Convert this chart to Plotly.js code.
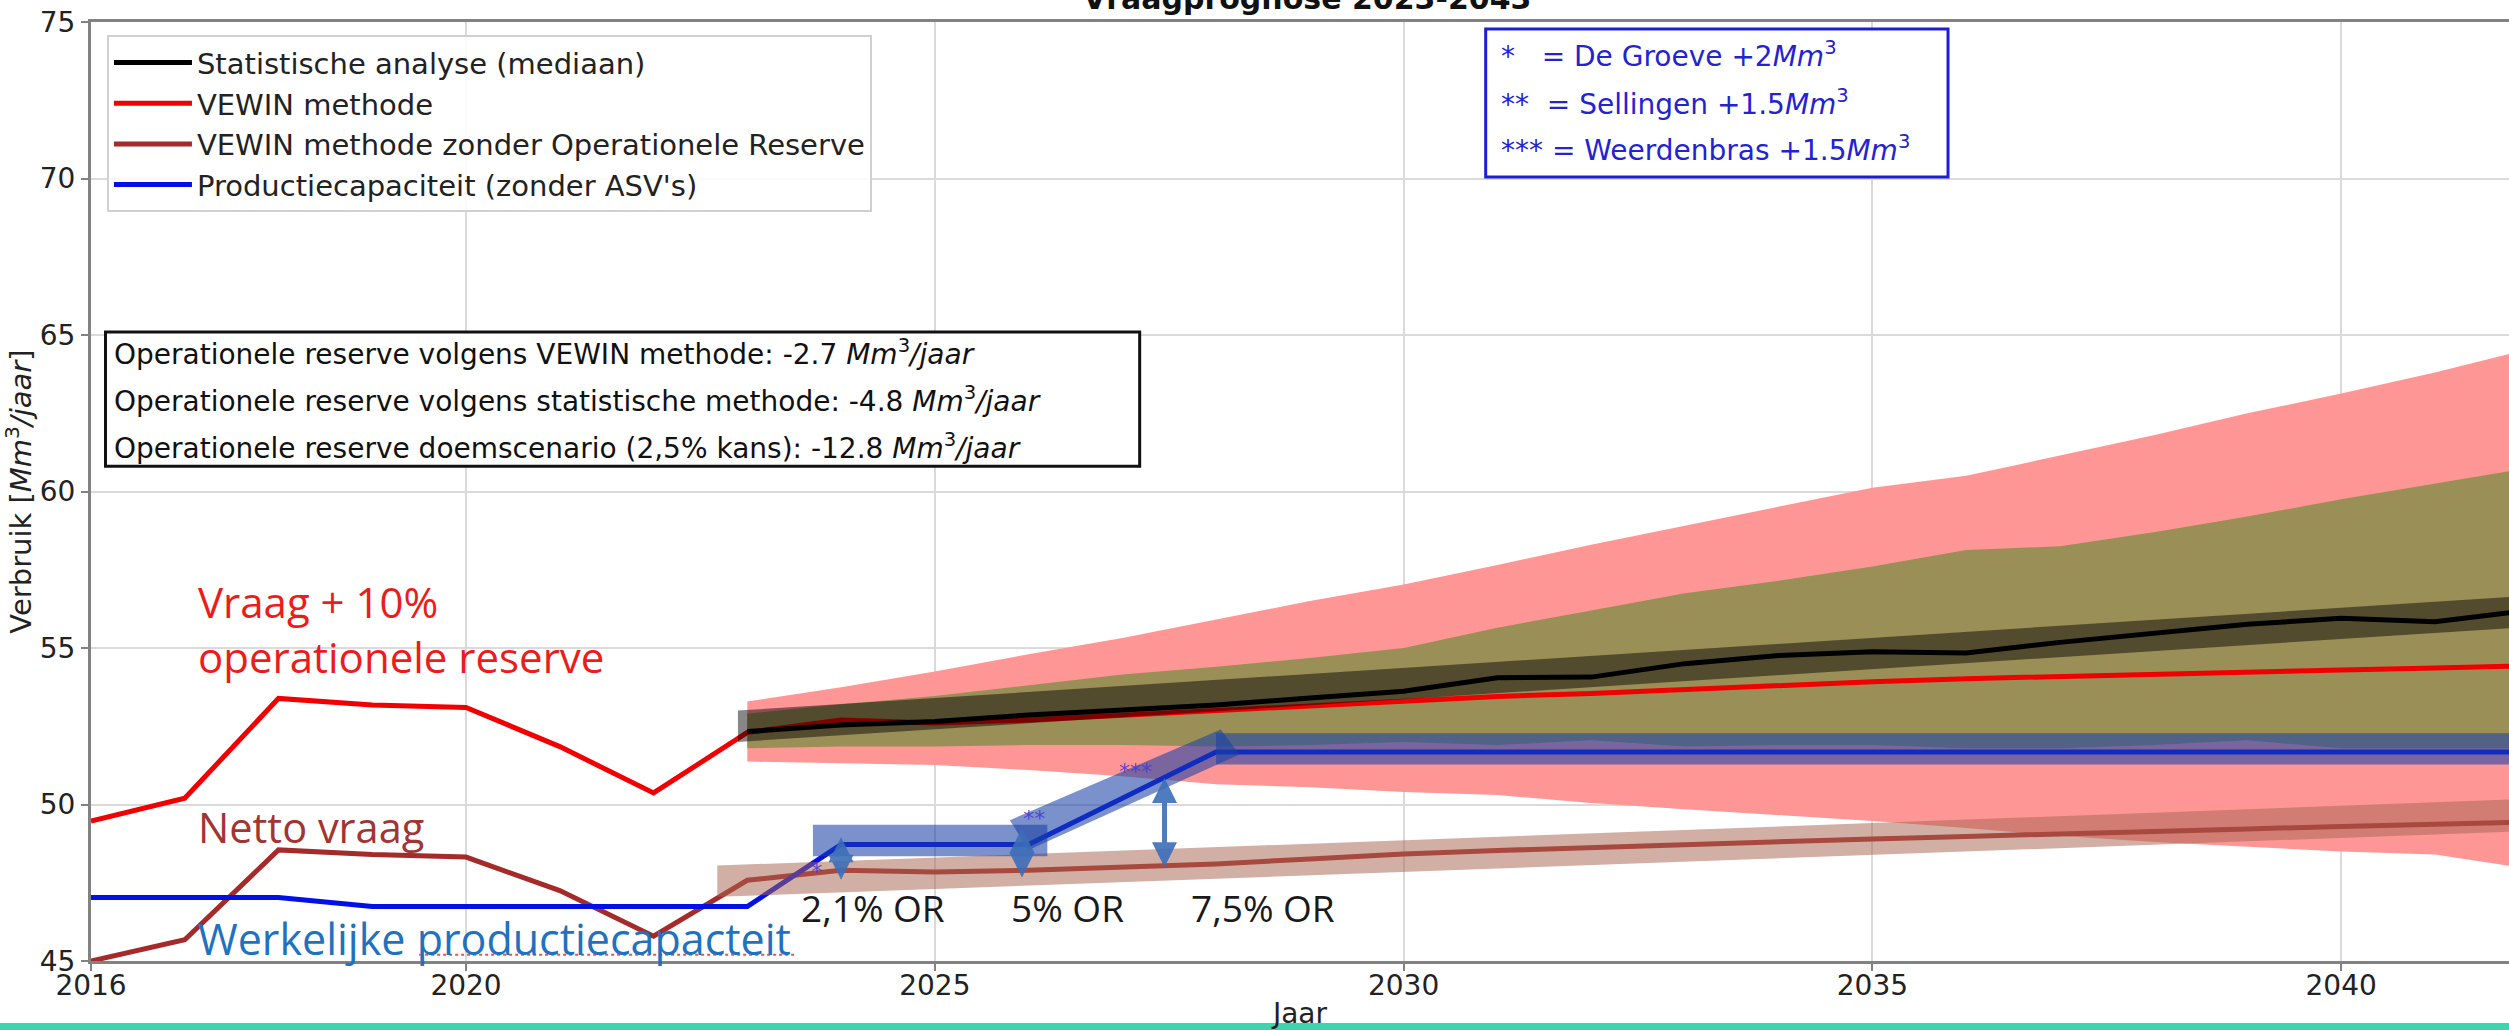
<!DOCTYPE html>
<html>
<head>
<meta charset="utf-8">
<script src="https://cdn.plot.ly/plotly-3.0.1.min.js"></script>
<style>
html,body{margin:0;padding:0;background:#fff;overflow:hidden;}
#chart{width:2509px;height:1030px;}
</style>
</head>
<body>
<div id="chart"></div>
<script>
// ---------- data ----------
const years = [2016,2017,2018,2019,2020,2021,2022,2023,2024,2025,2026,2027,2028,2029,2030,
               2031,2032,2033,2034,2035,2036,2037,2038,2039,2040,2041,2042];
const vewin = [49.47,50.2,53.39,53.18,53.1,51.85,50.37,52.3,52.7,52.6,52.7,52.85,52.98,53.13,53.3,
               53.45,53.55,53.68,53.8,53.92,54.02,54.1,54.18,54.24,54.3,54.36,54.43];
const netto = [45.0,45.68,48.55,48.4,48.32,47.25,45.79,47.58,47.9,47.84,47.9,48.0,48.1,48.26,48.42,
               48.53,48.63,48.72,48.81,48.9,48.98,49.05,49.13,49.22,49.3,49.37,49.44];
const capaciteit = [47.03,47.03,47.03,46.74,46.74,46.74,46.74,46.74,48.72,48.72,48.72,50.2,51.68,51.68,51.68,
               51.68,51.68,51.68,51.68,51.68,51.68,51.68,51.68,51.68,51.68,51.68,51.68];

const fcYears = [2023,2024,2025,2026,2027,2028,2029,2030,2031,2032,2033,2034,2035,2036,2037,2038,2039,2040,2041,2042];
const mediaan = [52.33,52.54,52.65,52.86,53.02,53.18,53.4,53.62,54.05,54.07,54.5,54.76,54.88,54.84,55.18,55.48,55.76,55.95,55.84,56.2];
const outerHi = [53.29,53.75,54.25,54.8,55.32,55.9,56.5,57.03,57.65,58.3,58.9,59.5,60.12,60.5,61.16,61.8,62.5,63.13,63.8,64.55];
const outerLo = [51.37,51.32,51.26,51.1,50.9,50.65,50.55,50.4,50.3,50.05,49.85,49.65,49.47,49.25,49.0,48.8,48.65,48.5,48.4,47.95];
const innerHi = [52.9,53.2,53.47,53.8,54.15,54.4,54.68,55.0,55.65,56.2,56.75,57.15,57.6,58.13,58.25,58.7,59.2,59.75,60.25,60.75];
const innerLo = [51.8,51.85,51.85,51.9,51.9,51.85,51.9,52.0,51.9,52.05,51.85,51.9,51.9,51.8,51.8,51.9,52.05,51.8,51.8,51.8];

// highlight overlays (drawn on top of the chart in the reference)
const darkBandX = [2022.9, 2042];   const darkBandLo = [52.0, 55.67];  const darkBandHi = [53.0, 56.67];
const nettoBandX = [2022.68, 2042]; const nettoBandLo = [47.05, 49.15]; const nettoBandHi = [48.05, 50.18];
const blueRectX = [2023.7, 2026.2]; const blueRectLo = [48.35, 48.35]; const blueRectHi = [49.35, 49.35];
const blueDiagX = [2025.8, 2028.05, 2028.25, 2026.0]; const blueDiagY = [49.5, 52.4, 51.6, 48.55];
const blueRightX = [2028.0, 2042];  const blueRightLo = [51.28, 51.28]; const blueRightHi = [52.28, 52.28];

const arrowX = [2024.0, 2025.93, 2027.45];
const arrowLo = [47.55, 47.62, 47.95];
const arrowHi = [48.95, 49.25, 50.85];
const starX = [2023.74, 2026.06, 2027.14];
const starY = [47.8, 49.5, 51.0];
const starText = ['*', '**', '***'];
const orX = [2024.34, 2026.41, 2028.5];
const orLabels = ['2,1% OR', '5% OR', '7,5% OR'];

const xTicks = [2016, 2020, 2025, 2030, 2035, 2040];
const yTicks = [45, 50, 55, 60, 65, 70, 75];

const legendNames = ['Statistische analyse (mediaan)', 'VEWIN methode',
                     'VEWIN methode zonder Operationele Reserve', "Productiecapaciteit (zonder ASV's)"];
const statLines = [
  'Operationele reserve volgens VEWIN methode: -2.7 <i>Mm</i><sup>3</sup><i>/jaar</i>',
  'Operationele reserve volgens statistische methode: -4.8 <i>Mm</i><sup>3</sup><i>/jaar</i>',
  'Operationele reserve doemscenario (2,5% kans): -12.8 <i>Mm</i><sup>3</sup><i>/jaar</i>'];
const keyLines = [
  '*\u00a0\u00a0\u00a0= De Groeve +2<i>Mm</i><sup>3</sup>',
  '**\u00a0\u00a0= Sellingen +1.5<i>Mm</i><sup>3</sup>',
  '*** = Weerdenbras +1.5<i>Mm</i><sup>3</sup>'];

// ---------- helpers ----------
function band(x, lo, hi) {
  return {x: x.concat(x.slice().reverse()), y: hi.concat(lo.slice().reverse())};
}
function polyTrace(p, color) {
  return {x: p.x, y: p.y, type: 'scatter', mode: 'lines', fill: 'toself', fillcolor: color,
          line: {width: 0, color: 'rgba(0,0,0,0)'}, showlegend: false, hoverinfo: 'skip'};
}

const MPL = 'DejaVu Sans, sans-serif';
const PPT = 'Open Sans, Noto Sans, sans-serif';

const outer = band(fcYears, outerLo, outerHi);
const inner = band(fcYears, innerLo, innerHi);
const dark = band(darkBandX, darkBandLo, darkBandHi);
const nb = band(nettoBandX, nettoBandLo, nettoBandHi);
const br = band(blueRectX, blueRectLo, blueRectHi);
const bri = band(blueRightX, blueRightLo, blueRightHi);
const blueOverlay = 'rgba(25,65,165,0.58)';

const traces = [
  polyTrace(outer, 'rgb(255,150,150)'),
  polyTrace(inner, 'rgb(155,143,88)'),
  {x: years, y: vewin, type: 'scatter', mode: 'lines', name: legendNames[1], legendrank: 2,
   line: {color: '#f00000', width: 5}},
  {x: years, y: netto, type: 'scatter', mode: 'lines', name: legendNames[2], legendrank: 3,
   line: {color: '#a52a2a', width: 5}},
  {x: years, y: capaciteit, type: 'scatter', mode: 'lines', name: legendNames[3], legendrank: 4,
   line: {color: '#0010e6', width: 5}},
  {x: fcYears, y: mediaan, type: 'scatter', mode: 'lines', name: legendNames[0], legendrank: 1,
   line: {color: '#000000', width: 5}},
  polyTrace(dark, 'rgba(0,0,0,0.47)'),
  polyTrace(nb, 'rgba(169,102,83,0.52)'),
  polyTrace(br, blueOverlay),
  polyTrace({x: blueDiagX, y: blueDiagY}, blueOverlay),
  polyTrace(bri, blueOverlay),
  {x: starX, y: starY, text: starText, type: 'scatter', mode: 'text', showlegend: false, hoverinfo: 'skip',
   textfont: {family: MPL, size: 22, color: 'rgba(70,60,210,0.9)'}}
];

// ---------- annotations ----------
const annotations = [];
// title (partly cut off at the top in the reference)
annotations.push({text: '<b>Vraagprognose 2023-2043</b>', xref: 'paper', yref: 'paper',
  x: 0.503, y: 1.0043, xanchor: 'center', yanchor: 'bottom', showarrow: false,
  font: {family: MPL, size: 30, color: '#111'}});
// arrows
for (let i = 0; i < arrowX.length; i++) {
  annotations.push({x: arrowX[i], y: arrowHi[i], ax: arrowX[i], ay: arrowLo[i],
    xref: 'x', yref: 'y', axref: 'x', ayref: 'y', text: '', showarrow: true,
    arrowhead: 2, arrowside: 'end+start', arrowsize: 1, arrowwidth: 5,
    arrowcolor: 'rgba(60,110,185,0.9)'});
}
// OR labels
for (let i = 0; i < orX.length; i++) {
  annotations.push({x: orX[i], y: 46.7, xref: 'x', yref: 'y', text: orLabels[i], showarrow: false,
    xanchor: 'center', yanchor: 'middle', font: {family: PPT, size: 37, color: '#1a1a1a'}});
}
// overlay texts
annotations.push({x: 2017.12, y: 55.6, xref: 'x', yref: 'y', showarrow: false, xanchor: 'left', yanchor: 'middle',
  align: 'left', text: 'Vraag + 10%<br>operationele reserve', font: {family: PPT, size: 42, color: '#ec1c1c'}});
annotations.push({x: 2017.12, y: 49.28, xref: 'x', yref: 'y', showarrow: false, xanchor: 'left', yanchor: 'middle',
  text: 'Netto vraag', font: {family: PPT, size: 41.5, color: '#a33434'}});
annotations.push({x: 2017.12, y: 45.73, xref: 'x', yref: 'y', showarrow: false, xanchor: 'left', yanchor: 'middle',
  text: 'Werkelijke productiecapacteit', font: {family: PPT, size: 43, color: '#1f72c0'}});
// statistics box lines
const statY = [0.6475, 0.5975, 0.5474];
statLines.forEach((t, i) => annotations.push({text: t, xref: 'paper', yref: 'paper', x: 0.0085, y: statY[i],
  xanchor: 'left', yanchor: 'middle', showarrow: false, font: {family: MPL, size: 28, color: '#111'}}));
// key box lines
const keyY = [0.9649, 0.9148, 0.8658];
keyLines.forEach((t, i) => annotations.push({text: t, xref: 'paper', yref: 'paper', x: 0.5822, y: keyY[i],
  xanchor: 'left', yanchor: 'middle', showarrow: false, font: {family: MPL, size: 28, color: '#2323d2'}}));

// ---------- shapes ----------
const shapes = [
  {type: 'rect', xref: 'paper', yref: 'paper', x0: 0.006, x1: 0.4337, y0: 0.527, y1: 0.6699,
   line: {color: '#111', width: 3}, fillcolor: '#ffffff', layer: 'above'},
  {type: 'rect', xref: 'paper', yref: 'paper', x0: 0.5768, x1: 0.768, y0: 0.8349, y1: 0.9925,
   line: {color: '#1e1ed2', width: 3}, fillcolor: '#ffffff', layer: 'above'},
  // spell-check underline below "productiecapacteit"
  {type: 'line', xref: 'x', yref: 'y', x0: 2019.5, x1: 2023.5, y0: 45.2, y1: 45.2,
   line: {color: 'rgba(220,40,40,0.8)', width: 2, dash: 'dot'}, layer: 'above'},
  // teal strip along the bottom edge
  {type: 'rect', xref: 'paper', yref: 'paper', x0: -0.05, x1: 1.01, y0: -0.066, y1: -0.08,
   line: {width: 0}, fillcolor: '#3dd4ae', layer: 'above'}
];

const layout = {
  width: 2509, height: 1030,
  margin: {l: 91, r: 0, t: 22, b: 69, pad: 0},
  paper_bgcolor: '#ffffff', plot_bgcolor: '#ffffff',
  font: {family: MPL, color: '#222'},
  showlegend: true,
  legend: {x: 0.0066, y: 0.986, xanchor: 'left', yanchor: 'top', bgcolor: 'rgba(255,255,255,0.85)',
           bordercolor: '#d0d0d0', borderwidth: 2, font: {family: MPL, size: 29, color: '#222'},
           itemwidth: 78, traceorder: 'normal'},
  xaxis: {range: [2016, 2041.79], tickvals: xTicks, ticktext: xTicks.map(String),
          showgrid: true, gridcolor: 'rgb(218,218,218)', gridwidth: 2, zeroline: false,
          showline: true, linecolor: 'rgb(130,130,130)', linewidth: 3, mirror: true,
          ticks: 'outside', ticklen: 7, tickwidth: 2, tickcolor: 'rgb(130,130,130)',
          ticklabelstandoff: -10,
          tickfont: {family: MPL, size: 28, color: '#222'},
          title: {text: 'Jaar', font: {family: MPL, size: 28, color: '#222'}, standoff: 16}},
  yaxis: {range: [45, 75], tickvals: yTicks, ticktext: yTicks.map(String),
          showgrid: true, gridcolor: 'rgb(218,218,218)', gridwidth: 2, zeroline: false,
          showline: true, linecolor: 'rgb(130,130,130)', linewidth: 3, mirror: false,
          ticks: 'outside', ticklen: 7, tickwidth: 2, tickcolor: 'rgb(130,130,130)',
          tickfont: {family: MPL, size: 28, color: '#222'},
          title: {text: 'Verbruik [<i>Mm</i><sup>3</sup><i>/jaar</i>]', font: {family: MPL, size: 29, color: '#222'}, standoff: 8}},
  annotations: annotations,
  shapes: shapes
};

Plotly.newPlot('chart', traces, layout, {displayModeBar: false, staticPlot: true});
</script>
</body>
</html>
